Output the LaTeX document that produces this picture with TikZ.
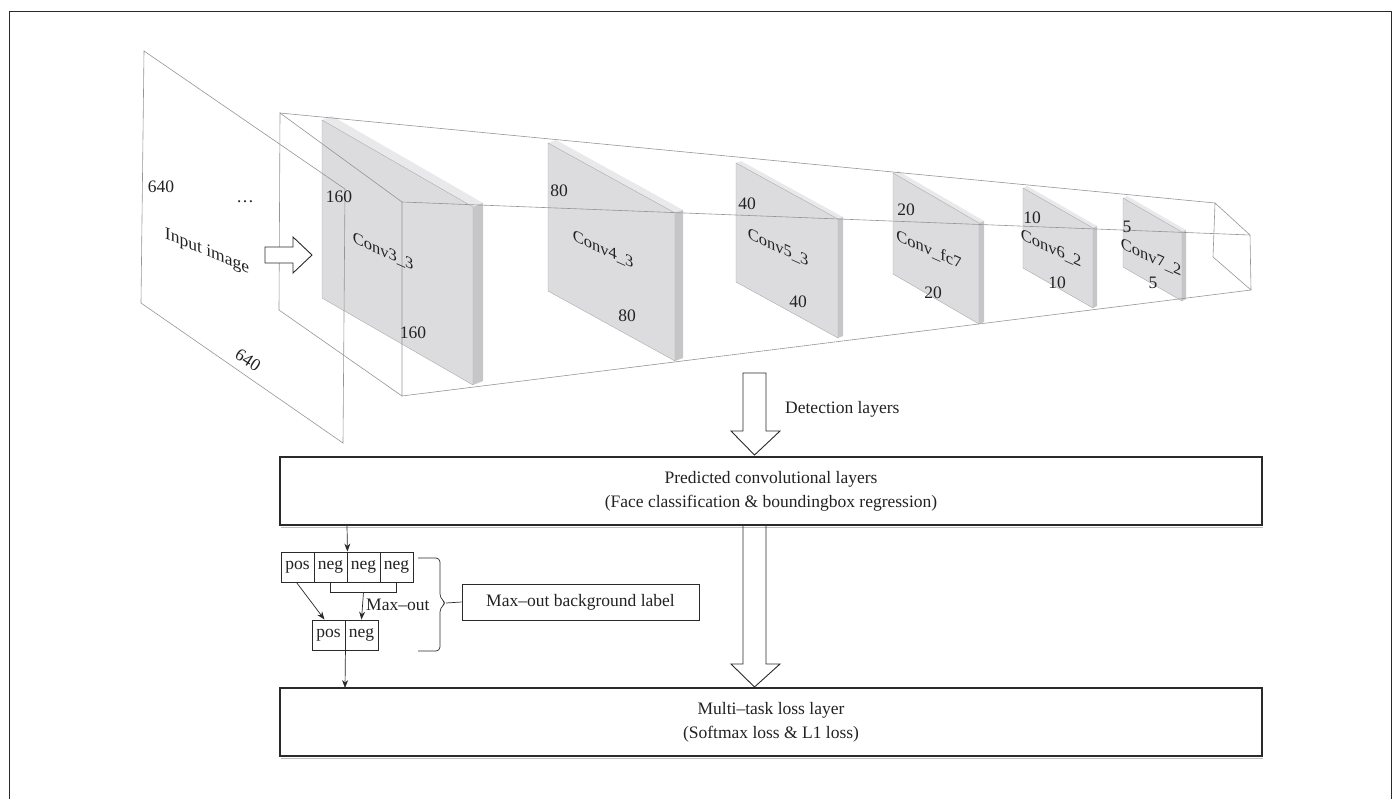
\documentclass[tikz,border=0pt]{standalone}
\usepackage{fontspec}
\setmainfont{Liberation Serif}
\usetikzlibrary{arrows.meta}
\definecolor{wiregray}{HTML}{959595}
\definecolor{frontc}{HTML}{DCDCDE}
\definecolor{topc}{HTML}{E9E9EB}
\definecolor{sidec}{HTML}{C6C6C8}
\definecolor{edgec}{HTML}{ABABAB}
\definecolor{boxline}{HTML}{2A2A2A}
\definecolor{txt}{HTML}{222222}
\newcommand\convpanel[8]{%
  % #1 name, #2 TLx, #3 TLy, #4 TRx, #5 TRy, #6 height, #7 dx, #8 dy
  \fill[topc] (#2,#3) -- (#2+#7,#3+#8) -- (#4+#7,#5+#8) -- (#4,#5) -- cycle;
  \fill[sidec] (#4,#5) -- (#4+#7,#5+#8) -- (#4+#7,#5+#6+#8) -- (#4,#5+#6) -- cycle;
  \filldraw[fill=frontc, draw=edgec, line width=0.4pt] (#2,#3) -- (#4,#5) -- (#4,#5+#6) -- (#2,#3+#6) -- cycle;
  \coordinate (#1) at (#2,#3);
}
\begin{document}
\begin{tikzpicture}[x=1pt,y=-1pt,
  wire/.style={draw=wiregray, line width=0.6pt},
  lbl/.style={font=\fontsize{17.5}{19}\selectfont, text=txt, inner sep=0pt},
  convlbl/.style={font=\fontsize{16.5}{18}\selectfont, text=txt, inner sep=0pt, yslant=-0.45},
  bigbox/.style={draw=boxline, line width=1.1pt, minimum width=982pt, minimum height=68pt, align=center, inner sep=0pt, text=txt, font=\fontsize{17.5}{24}\selectfont},
  cellbox/.style={draw=boxline, line width=0.9pt, minimum width=33pt, minimum height=30pt, inner sep=0pt, text=txt, font=\fontsize{17.5}{19}\selectfont},
  labbox/.style={draw=boxline, line width=0.9pt, minimum width=237pt, minimum height=36pt, inner sep=0pt, text=txt, font=\fontsize{17.5}{19}\selectfont},
  arr/.style={draw=boxline, line width=0.7pt, -{Stealth[length=8pt,width=6pt]}},
  hollow/.style={draw=boxline, line width=0.9pt, fill=white, line join=miter}
]
\useasboundingbox (0,0) rectangle (1400,798);

% outer frame
\draw[boxline, line width=0.9pt] (9.5,800) -- (9.5,11) -- (1391.5,11) -- (1391.5,800);

% conv panels
\convpanel{c3}{322}{120}{473}{207}{178}{10}{-4}
\convpanel{c4}{548}{143}{675}{213}{148}{8}{-3}
\convpanel{c5}{736}{163}{838}{219}{119}{5}{-2}
\convpanel{c6}{893}{173}{979}{223}{101}{5}{-2}
\convpanel{c7}{1023}{188}{1093}{228}{80}{4}{-2}
\convpanel{c8}{1123}{198}{1182}{232}{69}{4}{-2}

% input image plane
\coordinate (ia) at (144,51);
\coordinate (ib) at (345,189);
\coordinate (ic) at (343,443);
\coordinate (id) at (141,303);
\draw[wire] (ia) -- (ib) -- (ic) -- (id) -- cycle;

% frustum wireframe
\coordinate (fa) at (280,113);
\coordinate (fb) at (402,202);
\coordinate (fc) at (402,396);
\coordinate (fd) at (279,310);
\coordinate (ga) at (1215,203);
\coordinate (gb) at (1250,235);
\coordinate (gc) at (1251,290);
\coordinate (gd) at (1213,257);
\draw[wire] (fa) -- (fb) -- (fc) -- (fd) -- cycle;
\draw[wire] (ga) -- (gb) -- (gc) -- (gd) -- cycle;
\draw[wire] (fa) -- (ga);
\draw[wire] (fb) -- (gb);
\draw[wire] (fc) -- (gc);

% input labels
\node[lbl] (n640a) at (161,187) {640};
\node[lbl] (dots) at (245,202) {\ldots};
\node[lbl, yslant=-0.42] (inimg) at (207,252) {Input image};
\node[lbl, rotate=-33] (n640b) at (248,360) {640};
\draw[hollow] (265,247) -- (293,247) -- (293,237) -- (312,255) -- (293,273) -- (293,263) -- (265,263) -- cycle;

% conv labels
\node[lbl] (l3a) at (339,197) {160};
\node[convlbl] (l3n) at (383,252) {Conv3\_3};
\node[lbl] (l3b) at (413,333) {160};
\node[lbl] (l4a) at (559,191) {80};
\node[convlbl] (l4n) at (603,250) {Conv4\_3};
\node[lbl] (l4b) at (627,316) {80};
\node[lbl] (l5a) at (747,204) {40};
\node[convlbl] (l5n) at (778,248) {Conv5\_3};
\node[lbl] (l5b) at (798,302) {40};
\node[lbl] (l6a) at (906,210) {20};
\node[convlbl] (l6n) at (929,250) {Conv\_fc7};
\node[lbl] (l6b) at (933,293) {20};
\node[lbl] (l7a) at (1032,218) {10};
\node[convlbl] (l7n) at (1051,249) {Conv6\_2};
\node[lbl] (l7b) at (1057,283) {10};
\node[lbl] (l8a) at (1127,227) {5};
\node[convlbl] (l8n) at (1151,258) {Conv7\_2};
\node[lbl] (l8b) at (1153,283) {5};

% detection arrow
\draw[hollow] (743,373) -- (766,373) -- (766,431) -- (780,431) -- (754.5,455) -- (731,431) -- (743,431) -- cycle;
\node[lbl, anchor=west] (det) at (785,409) {Detection layers};

% big boxes
\draw[gray!50, line width=1pt] (281,527.5) -- (1263,527.5);
\draw[gray!50, line width=1pt] (281,758.5) -- (1263,758.5);
\node[bigbox] (pred) at (771,491) {Predicted convolutional layers\\(Face classification \& boundingbox regression)};
\node[bigbox] (multi) at (771,722) {Multi--task loss layer\\(Softmax loss \& L1 loss)};

% arrow between boxes
\draw[hollow, fill=none] (743,525) -- (743,664) -- (731,664) -- (754.5,687) -- (780,664) -- (766,664) -- (766,525);

% max-out cells
\node[cellbox] (p1) at (297.5,567) {pos};
\node[cellbox] (n1) at (330.5,567) {neg};
\node[cellbox] (n2) at (363.5,567) {neg};
\node[cellbox] (n3) at (396.5,567) {neg};
\node[cellbox] (p2) at (328.5,635) {pos};
\node[cellbox] (n4) at (361.5,635) {neg};

\coordinate (predout) at (347,525);
\draw[arr] (predout) -- (n1.north east);
\draw[boxline, line width=0.7pt] (n1.south) -- ++(0,10) -| (n3.south);
\coordinate (mj) at (363.5,592);
\draw[arr] (mj) -- (n4.north);
\draw[arr] ([xshift=-1pt]p1.south) -- ([xshift=-4pt]p2.north);
\node[lbl, anchor=west] (mo) at (366,605) {Max--out};
\coordinate (outc) at (345,688);
\draw[arr] (p2.south east) -- (outc);

% brace and label box
\node[labbox] (mbl) at (580.5,602) {Max--out background label};
\coordinate (brtop) at (418,558);
\coordinate (brbot) at (418,651);
\draw[boxline, line width=0.7pt, rounded corners=4pt] (brtop) -- (440,558) -- (440,598) -- (446,603) -- (440,608) -- (440,651) -- (brbot);
\draw[boxline, line width=0.7pt] (446,603) -- (mbl.west);
\end{tikzpicture}
\end{document}
